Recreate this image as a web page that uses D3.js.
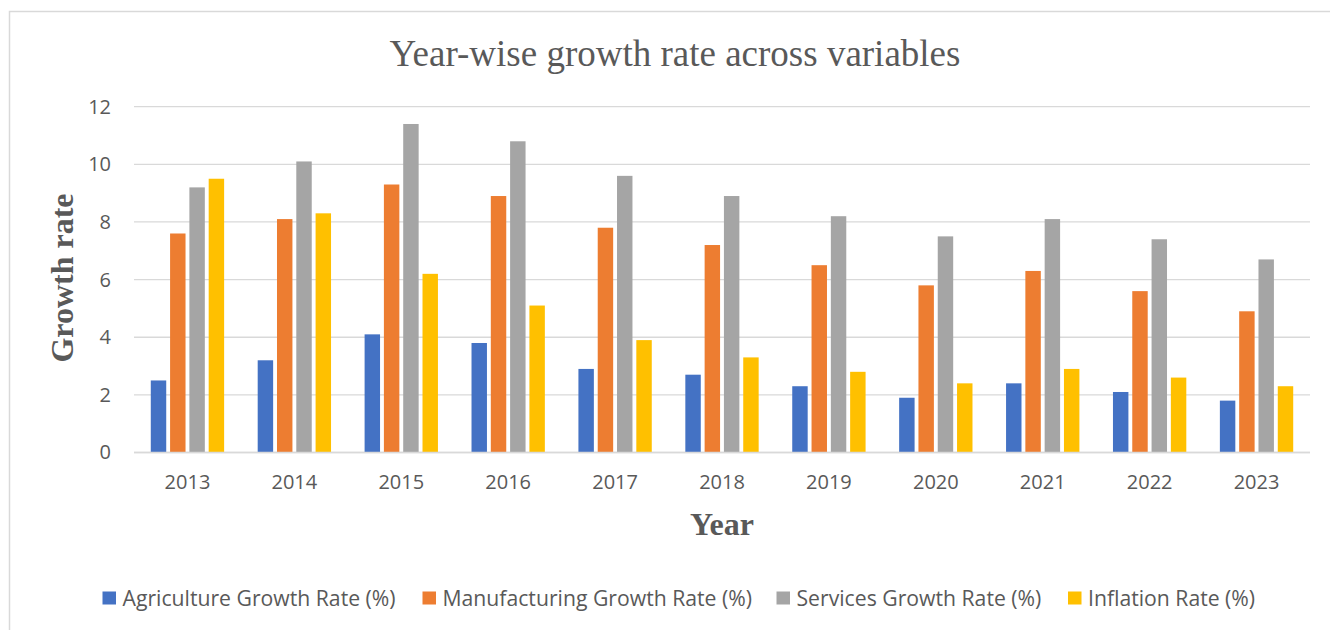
<!DOCTYPE html>
<html>
<head>
<meta charset="utf-8">
<script src="https://cdn.jsdelivr.net/npm/d3@7"></script>
<style>
  body { margin: 0; background: #fff; }
  svg { display: block; }
</style>
</head>
<body>
<div id="chart"></div>
<script>
// chart data
var years = ["2013","2014","2015","2016","2017","2018","2019","2020","2021","2022","2023"];
var seriesNames = ["Agriculture Growth Rate (%)","Manufacturing Growth Rate (%)","Services Growth Rate (%)","Inflation Rate (%)"];
var agriculture = [2.5, 3.2, 4.1, 3.8, 2.9, 2.7, 2.3, 1.9, 2.4, 2.1, 1.8];
var manufacturing = [7.6, 8.1, 9.3, 8.9, 7.8, 7.2, 6.5, 5.8, 6.3, 5.6, 4.9];
var services = [9.2, 10.1, 11.4, 10.8, 9.6, 8.9, 8.2, 7.5, 8.1, 7.4, 6.7];
var inflation = [9.5, 8.3, 6.2, 5.1, 3.9, 3.3, 2.8, 2.4, 2.9, 2.6, 2.3];
var yTicks = [0, 2, 4, 6, 8, 10, 12];
var colors = ["#4472c4", "#ed7d31", "#a5a5a5", "#ffc000"];

var allSeries = [agriculture, manufacturing, services, inflation];

var W = 1330, H = 630;
var svg = d3.select("#chart").append("svg").attr("width", W).attr("height", H);

// outer frame
svg.append("rect").attr("x", 9.5).attr("y", 11.5).attr("width", 1330).attr("height", 640)
    .attr("fill", "none").attr("stroke", "#d9d9d9").attr("stroke-width", 1.5);

var x = d3.scaleBand().domain(years).range([134, 1310]).paddingInner(0.314).paddingOuter(0.157);
var xInner = d3.scaleBand().domain(d3.range(4)).range([0, x.bandwidth()]).paddingInner(0.2);
var y = d3.scaleLinear().domain([0, 12]).range([452.5, 106.7]);

// gridlines
svg.append("g").selectAll("line").data(yTicks).enter().append("line")
    .attr("x1", 134).attr("x2", 1310)
    .attr("y1", function(d){ return y(d); }).attr("y2", function(d){ return y(d); })
    .attr("stroke", "#d9d9d9").attr("stroke-width", 1.3);

// y axis labels
var yAxis = d3.axisLeft(y).tickValues(yTicks).tickSize(0).tickPadding(0);
var yg = svg.append("g").attr("transform", "translate(111,0)").call(yAxis);
yg.select(".domain").remove();
yg.selectAll("text").attr("font-family", "'Open Sans', sans-serif").attr("font-size", 20)
    .attr("fill", "#595959");

// bars
var groups = svg.append("g").selectAll("g").data(years).enter().append("g")
    .attr("transform", function(d){ return "translate(" + x(d) + ",0)"; });
groups.selectAll("rect").data(function(d, i){
        return allSeries.map(function(s, k){ return {k: k, v: s[i]}; });
    }).enter().append("rect")
    .attr("x", function(d){ return xInner(d.k); })
    .attr("width", xInner.bandwidth())
    .attr("y", function(d){ return y(d.v); })
    .attr("height", function(d){ return y(0) - y(d.v); })
    .attr("fill", function(d){ return colors[d.k]; });

// x axis baseline + labels
svg.append("line").attr("x1", 134).attr("x2", 1310).attr("y1", y(0)).attr("y2", y(0))
    .attr("stroke", "#d9d9d9").attr("stroke-width", 1.5);
var xAxis = d3.axisBottom(x).tickSize(0).tickPadding(0);
var xg = svg.append("g").attr("transform", "translate(0," + (y(0) + 22) + ")").call(xAxis);
xg.select(".domain").remove();
xg.selectAll("text").attr("font-family", "'Open Sans', sans-serif").attr("font-size", 20)
    .attr("fill", "#595959");

// titles
svg.append("text").attr("x", 675).attr("y", 66).attr("text-anchor", "middle")
    .attr("font-family", "'Liberation Serif', 'Times New Roman', serif").attr("font-size", 37)
    .attr("fill", "#595959").text("Year-wise growth rate across variables");

svg.append("text").attr("transform", "translate(73,278) rotate(-90)").attr("text-anchor", "middle")
    .attr("font-family", "'Liberation Serif', 'Times New Roman', serif").attr("font-size", 32)
    .attr("font-weight", "bold").attr("fill", "#595959").text("Growth rate");

svg.append("text").attr("x", 722).attr("y", 535).attr("text-anchor", "middle")
    .attr("font-family", "'Liberation Serif', 'Times New Roman', serif").attr("font-size", 32)
    .attr("font-weight", "bold").attr("fill", "#595959").text("Year");

// legend
var legendX = [102.5, 422.5, 776.5, 1068];
var lg = svg.append("g").selectAll("g").data(seriesNames).enter().append("g")
    .attr("transform", function(d, i){ return "translate(" + legendX[i] + ",598)"; });
lg.append("rect").attr("x", 0).attr("y", -6.5).attr("width", 13.5).attr("height", 13)
    .attr("fill", function(d, i){ return colors[i]; });
lg.append("text").attr("x", 20).attr("y", 0).attr("dy", "0.36em")
    .attr("font-family", "'Open Sans', sans-serif").attr("font-size", 21.2)
    .attr("fill", "#595959").text(function(d){ return d; });
</script>
</body>
</html>
